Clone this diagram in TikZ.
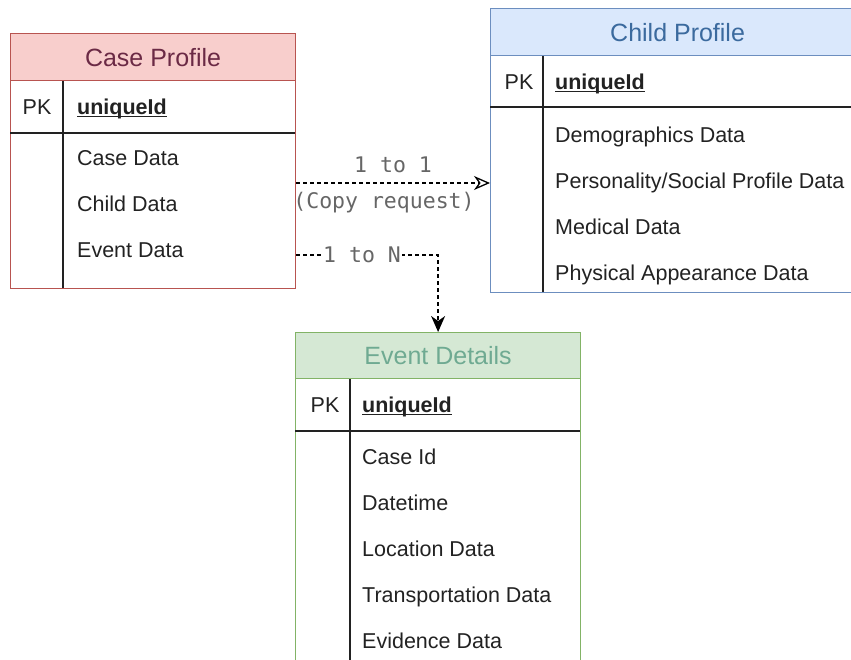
\documentclass[tikz,border=0pt]{standalone}
\usepackage{fontspec}
\setmainfont{Liberation Sans}
\newfontfamily\linkfont{DejaVu Sans Mono}
\usetikzlibrary{arrows.meta,positioning}

\definecolor{caseFill}{HTML}{F8CECC}
\definecolor{caseLine}{HTML}{B85450}
\definecolor{caseText}{HTML}{6B2A45}
\definecolor{childFill}{HTML}{DAE8FC}
\definecolor{childLine}{HTML}{6C8EBF}
\definecolor{childText}{HTML}{3B6A9E}
\definecolor{eventFill}{HTML}{D5E8D4}
\definecolor{eventLine}{HTML}{82B366}
\definecolor{eventText}{HTML}{6FAA92}
\definecolor{linkText}{HTML}{666666}
\definecolor{fieldText}{HTML}{222222}

\tikzset{
  tablehead/.style={rectangle, anchor=north west, inner sep=0pt, line width=1.2pt,
    font=\fontsize{25}{29}\selectfont},
  tablebody/.style={rectangle, anchor=north west, inner sep=0pt, line width=1.2pt},
  field/.style={anchor=west, inner sep=0pt, text height=15pt, text depth=0pt,
    font=\fontsize{21.5}{25}\selectfont, text=fieldText},
  keyfield/.style={field, font=\fontsize{21.5}{25}\selectfont\bfseries},
  pklabel/.style={inner sep=0pt, text height=15pt, text depth=0pt,
    font=\fontsize{21.5}{25}\selectfont, text=fieldText},
  innerline/.style={line width=1.5pt, fieldText},
  link/.style={line width=1.3pt, dash pattern=on 4pt off 3pt},
  linklabel/.style={inner sep=1pt, text=linkText, font=\linkfont\fontsize{21.5}{25}\selectfont},
}

\begin{document}
\begin{tikzpicture}[x=1pt,y=-1pt]
    \useasboundingbox (0,0) rectangle (851,660);
    \clip (0,0) rectangle (851,660);

    % Case Profile
    \node[tablebody, draw=caseLine, minimum width=285pt, minimum height=208pt] (caseBody) at (10,80) {};
    \draw[innerline] (10,133) -- (295,133);
    \draw[innerline] (63,80) -- (63,288);
    \node[tablehead, fill=caseFill, draw=caseLine, text=caseText, minimum width=285pt, minimum height=47pt] (caseHead) at (10,33) {Case Profile};
    \node[pklabel] (casePK) at (37,107) {PK};
    \node[keyfield] (caseKey) at (77,107) {uniqueId};
    \draw[line width=1pt, fieldText] ([yshift=-2pt]caseKey.south west) -- ([yshift=-2pt]caseKey.south east);
    \foreach \t [count=\i] in {Case Data, Child Data, Event Data}
      \node[field] (caseF\i) at (77,112+46*\i) {\t};

    % Child Profile
    \node[tablebody, draw=childLine, minimum width=374pt, minimum height=237pt] (childBody) at (490,55) {};
    \draw[innerline] (490,107) -- (864,107);
    \draw[innerline] (543,55) -- (543,292);
    \node[tablehead, fill=childFill, draw=childLine, text=childText, minimum width=374pt, minimum height=47pt] (childHead) at (490,8) {Child Profile};
    \node[pklabel] (childPK) at (519,82) {PK};
    \node[keyfield] (childKey) at (555,82) {uniqueId};
    \draw[line width=1pt, fieldText] ([yshift=-2pt]childKey.south west) -- ([yshift=-2pt]childKey.south east);
    \foreach \t [count=\i] in {Demographics Data, Personality/Social Profile Data, Medical Data, Physical Appearance Data}
      \node[field] (childF\i) at (555,89+46*\i) {\t};

    % Event Details
    \node[tablebody, draw=eventLine, minimum width=285pt, minimum height=300pt] (eventBody) at (295,378) {};
    \draw[innerline] (295,431) -- (580,431);
    \draw[innerline] (350,378) -- (350,678);
    \node[tablehead, fill=eventFill, draw=eventLine, text=eventText, minimum width=285pt, minimum height=46pt] (eventHead) at (295,332) {Event Details};
    \node[pklabel] (eventPK) at (325,405) {PK};
    \node[keyfield] (eventKey) at (362,405) {uniqueId};
    \draw[line width=1pt, fieldText] ([yshift=-2pt]eventKey.south west) -- ([yshift=-2pt]eventKey.south east);
    \foreach \t [count=\i] in {Case Id, Datetime, Location Data, Transportation Data, Evidence Data}
      \node[field] (eventF\i) at (362,411+46*\i) {\t};

    % links
    \draw[link, -{Stealth[open, length=16pt, width=14pt, inset=5pt, line width=1.3pt]}] (caseBody.east |- 0,183) -- (childBody.west |- 0,183);
    \node[linklabel] (copyTop) at (393,165) {1 to 1};
    \node[linklabel] (copyBottom) at (384,203) {(Copy request)};

    \draw[link, -{Stealth[length=16pt, width=14pt, inset=5pt]}] (caseBody.east |- 0,255) -| (eventHead.north);
    \node[linklabel, fill=white] (eventLabel) at (362,255) {1 to N};
\end{tikzpicture}
\end{document}
